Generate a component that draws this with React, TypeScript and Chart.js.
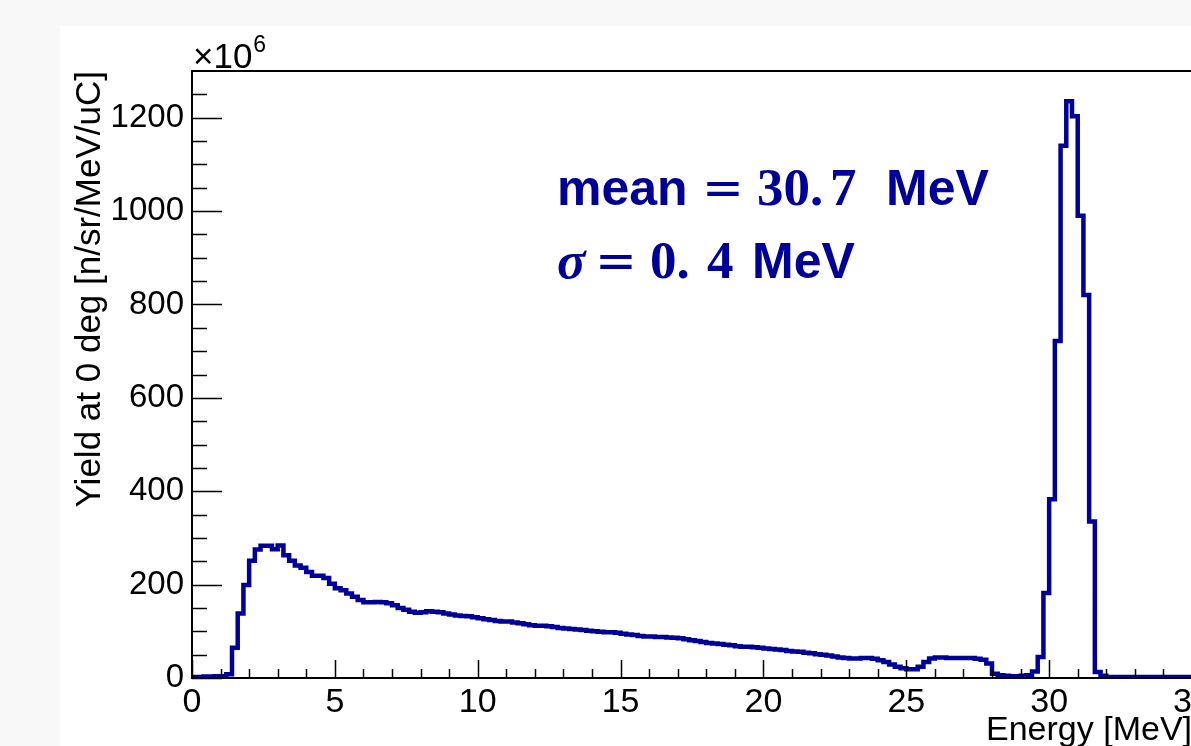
import React, { useEffect, useRef } from "react";
import { Chart, registerables } from "chart.js";

Chart.register(...registerables);

// ---- data ----
const BIN_LOW = 0; // MeV, low edge of first bin
const BIN_WIDTH = 0.2; // MeV
// yield per bin (x10^6 n/sr/MeV/uC), bins from 0.0 to 35.0 MeV
const yieldValues: number[] = [
  2, 2, 3, 3, 4, 4, 8, 65, 138, 199,
  251, 275, 283, 283, 276, 284, 263, 251, 241, 236,
  227, 219, 219, 214, 202, 192, 188, 181, 174, 167,
  162, 162, 163, 162, 160, 156, 150, 146, 142, 140,
  141, 143, 142, 141, 138, 136, 134, 133, 132, 130,
  128, 126, 124, 122, 121, 121, 119, 117, 115, 113,
  112, 112, 111, 109, 107, 106, 105, 104, 103, 101,
  100, 99, 98, 98, 97, 95, 93, 92, 90, 89,
  89, 88, 88, 87, 86, 85, 83, 81, 79, 77,
  75, 74, 73, 71, 70, 68, 67, 67, 66, 65,
  63, 62, 61, 60, 58, 57, 56, 54, 53, 51,
  50, 48, 46, 44, 43, 42, 42, 43, 43, 41,
  38, 34, 29, 24, 21, 19, 19, 24, 34, 42,
  44, 44, 43, 43, 43, 43, 43, 41, 39, 31,
  9, 6, 5, 4, 4, 5, 6, 14, 45, 182,
  383, 722, 1140, 1235, 1203, 990, 820, 335, 13, 5,
  2, 2, 2, 2, 2, 2, 2, 2, 2, 2, 2, 2, 2, 2, 2,
];
const X_MIN = 0;
const X_MAX = 35;
const Y_MIN = 0;
const Y_MAX = 1300;
const X_MAJOR_STEP = 5;
const X_MINOR_STEP = 1;
const Y_MAJOR_STEP = 200;
const Y_MINOR_STEP = 50;
const X_TITLE = "Energy [MeV]";
const Y_TITLE = "Yield at 0 deg [n/sr/MeV/uC]";
const EXPONENT_LABEL = "6";
const MEAN_VALUE = "30.7";
const SIGMA_VALUE = "0.4";

const LINE_COLOR = "#000099";
const SANS = "'Liberation Sans', Arial, Helvetica, sans-serif";
const SERIF = "'Liberation Serif', 'Times New Roman', serif";
const EQ_FONT = "'DejaVu Sans', sans-serif";

const CANVAS_W = 1215;
const CANVAS_H = 746;

export default function App() {
  const ref = useRef<HTMLCanvasElement | null>(null);

  useEffect(() => {
    const canvas = ref.current;
    if (!canvas) return;

    const points = yieldValues.map((v, i) => ({ x: BIN_LOW + i * BIN_WIDTH, y: v }));
    points.push({
      x: BIN_LOW + yieldValues.length * BIN_WIDTH,
      y: yieldValues[yieldValues.length - 1],
    });

    const framePlugin = {
      id: "rootFrame",
      afterDatasetsDraw(chart: any) {
        const { ctx, chartArea } = chart;
        const xs = chart.scales.x;
        const ys = chart.scales.y;
        const { left, right, top, bottom } = chartArea;
        ctx.save();
        ctx.strokeStyle = "#000";
        ctx.lineWidth = 1.5;
        ctx.beginPath();
        for (let v = X_MIN; v <= X_MAX + 1e-9; v += X_MINOR_STEP) {
          const px = Math.round(xs.getPixelForValue(v)) + 0.5;
          const len = Math.abs(v / X_MAJOR_STEP - Math.round(v / X_MAJOR_STEP)) < 1e-6 ? 18 : 9;
          ctx.moveTo(px, bottom);
          ctx.lineTo(px, bottom - len);
        }
        for (let v = Y_MIN; v < Y_MAX - 1e-9; v += Y_MINOR_STEP) {
          const py = Math.round(ys.getPixelForValue(v)) + 0.5;
          const len = Math.abs(v / Y_MAJOR_STEP - Math.round(v / Y_MAJOR_STEP)) < 1e-6 ? 30 : 15;
          ctx.moveTo(left, py);
          ctx.lineTo(left + len, py);
        }
        ctx.stroke();
        ctx.lineWidth = 2;
        ctx.strokeRect(left, top, right - left, bottom - top);

        // exponent label
        ctx.fillStyle = "#000";
        ctx.textBaseline = "alphabetic";
        ctx.textAlign = "left";
        ctx.font = `35px ${SANS}`;
        const base = "\u00d710";
        ctx.fillText(base, left + 1, top - 3);
        const w = ctx.measureText(base).width;
        ctx.font = `23px ${SANS}`;
        ctx.fillText(EXPONENT_LABEL, left + 1 + w + 1, top - 19);

        // annotation
        ctx.fillStyle = LINE_COLOR;
        const drawSegs = (segs: { t: string; f: string; x: number }[], y: number) => {
          for (const s of segs) {
            ctx.font = s.f;
            ctx.fillText(s.t, s.x, y);
          }
        };
        drawSegs(
          [
            { t: "mean", f: `bold 50px ${SANS}`, x: 557 },
            { t: "=", f: `50px ${EQ_FONT}`, x: 702 },
            { t: MEAN_VALUE.split(".")[0] + ".", f: `bold 53px ${SERIF}`, x: 757 },
            { t: MEAN_VALUE.split(".")[1], f: `bold 53px ${SERIF}`, x: 830 },
            { t: "MeV", f: `bold 50px ${SANS}`, x: 886 },
          ],
          205
        );
        drawSegs(
          [
            { t: "\u03c3", f: `italic bold 53px ${SERIF}`, x: 557 },
            { t: "=", f: `50px ${EQ_FONT}`, x: 595 },
            { t: SIGMA_VALUE.split(".")[0] + ".", f: `bold 53px ${SERIF}`, x: 650 },
            { t: SIGMA_VALUE.split(".")[1], f: `bold 53px ${SERIF}`, x: 707 },
            { t: "MeV", f: `bold 50px ${SANS}`, x: 752 },
          ],
          278
        );
        ctx.restore();
      },
    };

    const chart = new Chart(canvas, {
      type: "line",
      data: {
        datasets: [
          {
            data: points,
            stepped: "before",
            borderColor: LINE_COLOR,
            borderWidth: 4.5,
            pointRadius: 0,
            fill: false,
            tension: 0,
          },
        ],
      },
      options: {
        animation: false,
        responsive: false,
        devicePixelRatio: 1,
        parsing: false,
        layout: { padding: { left: 60, top: 71, right: CANVAS_W - 1192, bottom: 0 } },
        plugins: { legend: { display: false }, tooltip: { enabled: false }, title: { display: false } },
        scales: {
          x: {
            type: "linear",
            min: X_MIN,
            max: X_MAX,
            grid: { display: false, drawTicks: false },
            border: { display: false },
            ticks: {
              stepSize: X_MAJOR_STEP,
              includeBounds: false,
              autoSkip: false,
              maxRotation: 0,
              padding: 4,
              color: "#000",
              font: { family: SANS, size: 34 },
              callback: (v: any) => String(v),
            },
            title: {
              display: true,
              text: X_TITLE,
              align: "end",
              color: "#000",
              font: { family: SANS, size: 34, lineHeight: 0.9 },
              padding: 0,
            },
            afterFit: (s: any) => {
              s.height = 68;
            },
          },
          y: {
            type: "linear",
            min: Y_MIN,
            max: Y_MAX,
            grid: { display: false, drawTicks: false },
            border: { display: false },
            ticks: {
              stepSize: Y_MAJOR_STEP,
              includeBounds: false,
              autoSkip: false,
              padding: 8,
              color: "#000",
              font: { family: SANS, size: 33 },
              callback: (v: any) => String(v),
            },
            title: {
              display: true,
              text: Y_TITLE,
              align: "end",
              color: "#000",
              font: { family: SANS, size: 35, lineHeight: 1.2 },
              padding: { top: 9, bottom: 0 },
            },
            afterFit: (s: any) => {
              s.width = 132;
            },
          },
        },
      } as any,
      plugins: [framePlugin],
    });

    return () => chart.destroy();
  }, []);

  return (
    <div
      style={{
        position: "fixed",
        left: 0,
        top: 0,
        width: 1191,
        height: 746,
        overflow: "hidden",
        background: "#f8f8f8",
      }}
    >
      <div
        style={{
          position: "absolute",
          left: 60,
          top: 26,
          right: 0,
          bottom: 0,
          background: "#ffffff",
        }}
      />
      <canvas
        ref={ref}
        width={CANVAS_W}
        height={CANVAS_H}
        style={{ position: "absolute", left: 0, top: 0, width: CANVAS_W, height: CANVAS_H }}
      />
    </div>
  );
}
